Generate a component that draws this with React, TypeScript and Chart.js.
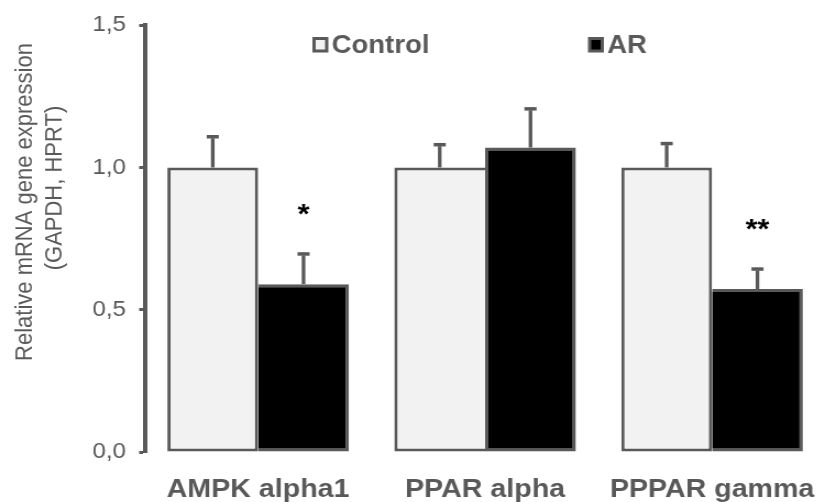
import React, { useEffect, useRef } from "react";
import { Chart, registerables } from "chart.js";

Chart.register(...registerables);

const categories = ["AMPK alpha1", "PPAR alpha", "PPPAR gamma"];
const seriesNames = ["Control", "AR"];
const controlValues = [1.0, 1.0, 1.0];
const controlErrors = [0.108, 0.08, 0.084];
const arValues = [0.59, 1.07, 0.573];
const arErrors = [0.106, 0.136, 0.07];
const arSignificance = ["*", "", "**"];
const yTickValues = [0, 0.5, 1.0, 1.5];

const GRAY = "#595959";
const FONT = "'Liberation Sans', Arial, Helvetica, sans-serif";
const SX = 1.1; // horizontal stretch of the picture
const CANVAS_W = 755;
const CANVAS_H = 502;

const errorsByDataset = [controlErrors, arErrors];
const marksByDataset = [["", "", ""], arSignificance];

const overlayPlugin = {
  id: "overlay",
  afterDatasetsDraw(chart: any) {
    const ctx = chart.ctx;
    const yScale = chart.scales.y;
    chart.data.datasets.forEach((ds: any, di: number) => {
      const meta = chart.getDatasetMeta(di);
      meta.data.forEach((bar: any, i: number) => {
        const v = ds.data[i];
        const e = errorsByDataset[di][i];
        const yBar = yScale.getPixelForValue(v);
        const yTop = yScale.getPixelForValue(v + e);
        ctx.save();
        ctx.strokeStyle = GRAY;
        ctx.lineWidth = 3.3;
        ctx.beginPath();
        ctx.moveTo(bar.x, yBar);
        ctx.lineTo(bar.x, yTop + 1.5);
        ctx.stroke();
        ctx.lineWidth = 3.5;
        ctx.beginPath();
        ctx.moveTo(bar.x - 5.5, yTop);
        ctx.lineTo(bar.x + 5.5, yTop);
        ctx.stroke();
        const mark = marksByDataset[di][i];
        if (mark) {
          ctx.fillStyle = "#000";
          ctx.font = `bold 28px ${FONT}`;
          ctx.textAlign = "center";
          ctx.textBaseline = "alphabetic";
          ctx.fillText(mark, bar.x, yTop - 31);
        }
        ctx.restore();
      });
    });
  },
  afterDraw(chart: any) {
    const ctx = chart.ctx;
    // legend
    const boxX = [284, 534.5];
    chart.data.datasets.forEach((ds: any, di: number) => {
      ctx.save();
      ctx.fillStyle = ds.backgroundColor;
      ctx.strokeStyle = GRAY;
      ctx.lineWidth = 3;
      ctx.fillRect(boxX[di] + 1.5, 38.5, 11.5, 12.5);
      ctx.strokeRect(boxX[di] + 1.5, 38.5, 11.5, 12.5);
      ctx.fillStyle = GRAY;
      ctx.font = `bold 25px ${FONT}`;
      ctx.textAlign = "left";
      ctx.textBaseline = "middle";
      ctx.fillText(ds.label, boxX[di] + 17.5, 46);
      ctx.restore();
    });
    // y title
    const lines = ["Relative mRNA gene expression", "(GAPDH, HPRT)"];
    const pos = [
      [28.5, 202],
      [55.5, 188],
    ];
    lines.forEach((t, k) => {
      ctx.save();
      ctx.fillStyle = GRAY;
      ctx.font = `22px ${FONT}`;
      ctx.textAlign = "center";
      ctx.textBaseline = "alphabetic";
      ctx.translate(pos[k][0], pos[k][1]);
      ctx.rotate(-Math.PI / 2);
      ctx.fillText(t, 0, 0);
      ctx.restore();
    });
  },
};

export default function App() {
  const ref = useRef<HTMLCanvasElement | null>(null);
  useEffect(() => {
    if (!ref.current) return;
    const chart = new Chart(ref.current, {
      type: "bar",
      data: {
        labels: categories,
        datasets: [
          {
            label: seriesNames[0],
            data: controlValues,
            backgroundColor: "#f2f2f2",
            borderColor: GRAY,
            borderSkipped: false,
            borderWidth: (c: any) => {
              const i = c.dataIndex;
              return { top: 3, left: 3, bottom: 3, right: arValues[i] <= controlValues[i] ? 3 : 0 };
            },
          },
          {
            label: seriesNames[1],
            data: arValues,
            backgroundColor: "#000000",
            borderColor: GRAY,
            borderSkipped: false,
            borderWidth: (c: any) => {
              const i = c.dataIndex;
              return { top: 3, right: 3, bottom: 3, left: arValues[i] > controlValues[i] ? 3 : 0 };
            },
          },
        ] as any,
      },
      options: {
        responsive: false,
        animation: false,
        devicePixelRatio: 1,
        categoryPercentage: 0.8,
        barPercentage: 1.0,
        layout: { padding: { left: 0, top: 23, right: 4.5, bottom: 0 } },
        plugins: { legend: { display: false }, tooltip: { enabled: false } },
        scales: {
          x: {
            grid: { display: false, drawTicks: false },
            border: { display: false },
            ticks: {
              color: GRAY,
              padding: 0,
              font: { family: FONT, size: 26, weight: "bold", lineHeight: 2.9 },
            },
            afterFit: (s: any) => {
              s.height = 50;
            },
          },
          y: {
            min: 0,
            max: 1.5,
            afterBuildTicks: (s: any) => {
              s.ticks = yTickValues.map((v) => ({ value: v }));
            },
            ticks: {
              color: GRAY,
              padding: 12,
              font: { family: FONT, size: 22 },
              callback: (v: any) => Number(v).toFixed(1).replace(".", ","),
            },
            grid: {
              display: true,
              drawOnChartArea: false,
              drawTicks: true,
              tickLength: 5,
              tickWidth: 3,
              tickColor: GRAY,
            },
            border: { display: true, color: GRAY, width: 4 },
            afterFit: (s: any) => {
              s.width = 131.5;
            },
          },
        },
      } as any,
      plugins: [overlayPlugin],
    });
    return () => chart.destroy();
  }, []);
  return (
    <div
      style={{
        position: "absolute",
        left: 0,
        top: 0,
        width: 819,
        height: 502,
        overflow: "hidden",
        background: "#fff",
      }}
    >
      <canvas
        ref={ref}
        width={CANVAS_W}
        height={CANVAS_H}
        style={{
          display: "block",
          width: CANVAS_W,
          height: CANVAS_H,
          transform: `scaleX(${SX})`,
          transformOrigin: "0 0",
        }}
      />
    </div>
  );
}
